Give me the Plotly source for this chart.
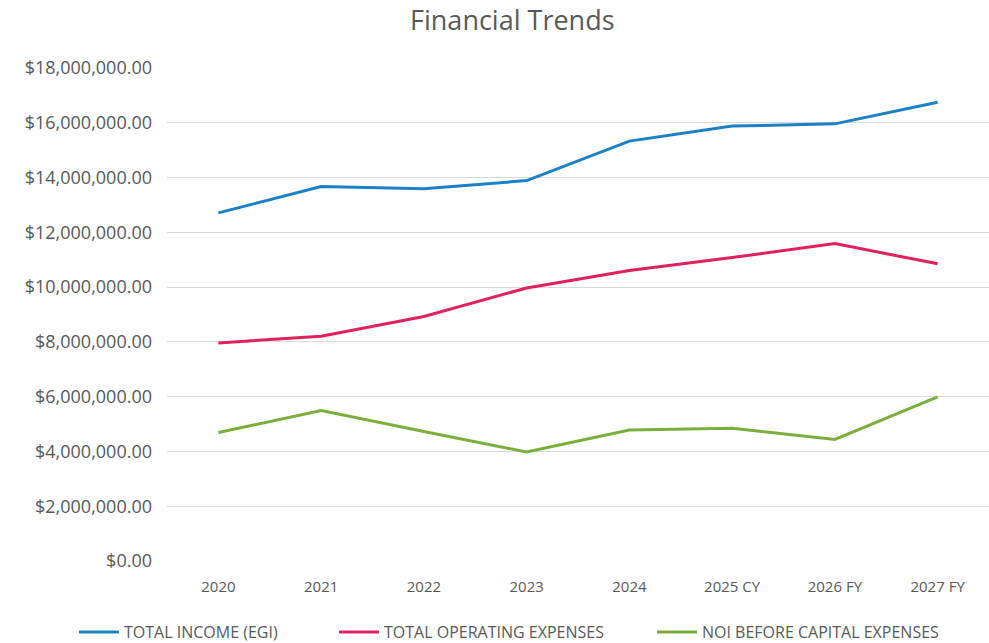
import plotly.graph_objects as go

categories = ["2020", "2021", "2022", "2023", "2024", "2025 CY", "2026 FY", "2027 FY"]
total_income = [12710000, 13670000, 13590000, 13890000, 15330000, 15880000, 15960000, 16750000]
total_opex = [7960000, 8210000, 8930000, 9970000, 10610000, 11080000, 11590000, 10850000]
noi = [4690000, 5490000, 4730000, 3980000, 4780000, 4850000, 4440000, 5990000]

series_names = ["TOTAL INCOME (EGI)", "TOTAL OPERATING EXPENSES", "NOI BEFORE CAPITAL EXPENSES"]
series_colors = ["#1B80C4", "#E0215E", "#7BAF3C"]
y_ticks = [0, 2000000, 4000000, 6000000, 8000000, 10000000, 12000000, 14000000, 16000000, 18000000]
y_tick_labels = ["$0.00", "$2,000,000.00", "$4,000,000.00", "$6,000,000.00", "$8,000,000.00",
                 "$10,000,000.00", "$12,000,000.00", "$14,000,000.00", "$16,000,000.00",
                 "$18,000,000.00"]

legend_ids = ["legend", "legend2", "legend3"]
legend_x_px = [74, 334, 652]

fig = go.Figure()
for name, vals, col, lid in zip(series_names, [total_income, total_opex, noi], series_colors, legend_ids):
    fig.add_trace(go.Scatter(x=categories, y=vals, mode="lines", name=name, legend=lid,
                             line=dict(color=col, width=3)))

font_family = "'Open Sans', sans-serif"
legend_common = dict(orientation="h", xref="container", yref="container",
                     y=1 - 632 / 643, xanchor="left", yanchor="middle",
                     font=dict(size=16, color="#595959", family=font_family),
                     itemwidth=40, bgcolor="rgba(0,0,0,0)")

layout_legends = {}
for lid, xp in zip(legend_ids, legend_x_px):
    layout_legends[lid] = dict(legend_common, x=xp / 989)

fig.update_layout(
    width=989, height=643,
    margin=dict(l=167, r=0, t=68, b=82),
    plot_bgcolor="white", paper_bgcolor="white",
    font=dict(family=font_family, color="#595959", size=14),
    title=dict(text="Financial Trends", x=0.518, xref="container", y=1 - 21 / 643,
               yref="container", xanchor="center", yanchor="middle",
               font=dict(size=27, color="#595959", family=font_family)),
    xaxis=dict(type="category", range=[-0.5, 7.5], showgrid=False, zeroline=False,
               showline=False, ticks="", ticklabelstandoff=15,
               tickfont=dict(size=15, color="#595959", family=font_family)),
    yaxis=dict(range=[0, 18000000], tickvals=y_ticks, ticktext=y_tick_labels,
               showgrid=True, gridcolor="#D9D9D9", gridwidth=1, zeroline=False,
               showline=False, ticks="", ticklabelstandoff=14,
               tickfont=dict(size=18, color="#595959", family=font_family)),
    showlegend=True,
    **layout_legends,
)

fig.write_html("out.html")
